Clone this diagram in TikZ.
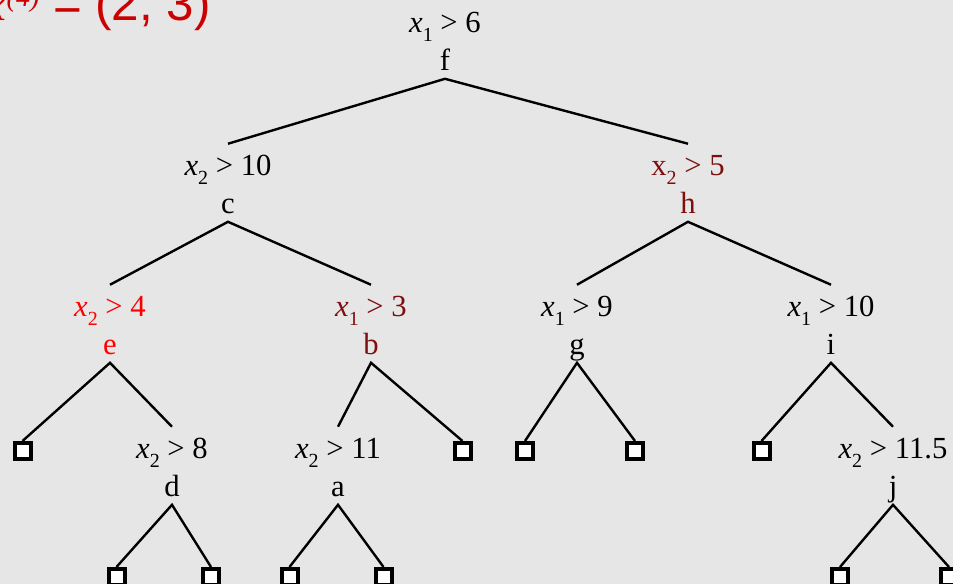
\documentclass[tikz,border=0pt]{standalone}
\usepackage{fontspec}
\setmainfont{Liberation Serif}
\setsansfont{Liberation Sans}
\usetikzlibrary{positioning}
\definecolor{bggray}{RGB}{230,230,230}
\definecolor{splitred}{RGB}{255,0,0}
\definecolor{darkred}{RGB}{125,15,15}
\definecolor{titlered}{RGB}{204,0,0}
\newcommand{\xv}[1]{\textit{x}\raisebox{-0.28em}{\fontsize{15}{15}\selectfont #1}}
\newcommand{\xr}[1]{x\raisebox{-0.28em}{\fontsize{15}{15}\selectfont #1}}
\tikzset{
    test/.style={font=\fontsize{23}{27}\selectfont, anchor=base, text height=22pt, text depth=4pt, inner sep=2pt},
    nodename/.style={font=\fontsize{23}{27}\selectfont, text height=14pt, text depth=0pt, inner xsep=2pt, inner ysep=6pt},
    leaf/.style={rectangle, draw, fill=white, line width=3pt, minimum size=12pt, inner sep=0pt},
    branch/.style={line width=1.8pt},
}
\begin{document}
\begin{tikzpicture}[x=0.75pt, y=-0.75pt]
    \useasboundingbox (0,0) rectangle (953,584);
    \fill[bggray] (0,0) rectangle (953,584);
    \clip (0,0) rectangle (953,584);

    % query point
    \node[anchor=base east, inner sep=0pt, text=titlered, font=\sffamily\fontsize{37}{40}\selectfont] (query) at (211,21)
        {{\rmfamily\itshape x}\raisebox{0.3em}{\rmfamily\itshape\fontsize{21}{21}\selectfont(4)} = (2, 3)};

    % splits
    \node[test] (tf) at (445,33) {\xv{1} > 6};
    \node[nodename, below=1.75pt of tf] (f) {f};
    \node[test] (tc) at (228,176) {\xv{2} > 10};
    \node[nodename, below=1.75pt of tc] (c) {c};
    \node[test, text=darkred] (th) at (688,176) {\xr{2} > 5};
    \node[nodename, below=1.75pt of th, text=darkred] (h) {h};
    \node[test, text=splitred] (te) at (110,317) {\xv{2} > 4};
    \node[nodename, below=1.75pt of te, text=splitred] (e) {e};
    \node[test, text=darkred] (tb) at (371,317) {\xv{1} > 3};
    \node[nodename, below=1.75pt of tb, text=darkred] (b) {b};
    \node[test] (tg) at (577,317) {\xv{1} > 9};
    \node[nodename, below=1.75pt of tg] (g) {g};
    \node[test] (ti) at (831,317) {\xv{1} > 10};
    \node[nodename, below=1.75pt of ti] (i) {i};
    \node[test] (td) at (172,459) {\xv{2} > 8};
    \node[nodename, below=1.75pt of td] (d) {d};
    \node[test] (ta) at (338,459) {\xv{2} > 11};
    \node[nodename, below=1.75pt of ta] (a) {a};
    \node[test] (tj) at (893,459) {\xv{2} > 11.5};
    \node[nodename, below=1.75pt of tj] (j) {j};

    % leaves
    \node[leaf] (l1) at (22.5,451) {};
    \node[leaf] (l2) at (462.5,451) {};
    \node[leaf] (l3) at (525,451) {};
    \node[leaf] (l4) at (635,451) {};
    \node[leaf] (l5) at (761.5,451) {};
    \node[leaf] (l6) at (116.5,577) {};
    \node[leaf] (l7) at (211,577) {};
    \node[leaf] (l8) at (289.5,577) {};
    \node[leaf] (l9) at (383.5,577) {};
    \node[leaf] (l10) at (840,577) {};
    \node[leaf] (l11) at (949,577) {};

    \draw[branch] (tc.north) -- (f.south) -- (th.north);
    \draw[branch] (te.north) -- (c.south) -- (tb.north);
    \draw[branch] (tg.north) -- (h.south) -- (ti.north);
    \draw[branch] (l1.north) -- (e.south) -- (td.north);
    \draw[branch] (ta.north) -- (b.south) -- (l2.north);
    \draw[branch] (l3.north) -- (g.south) -- (l4.north);
    \draw[branch] (l5.north) -- (i.south) -- (tj.north);
    \draw[branch] (l6.north) -- (d.south) -- (l7.north);
    \draw[branch] (l8.north) -- (a.south) -- (l9.north);
    \draw[branch] (l10.north) -- (j.south) -- (l11.north);
\end{tikzpicture}
\end{document}
